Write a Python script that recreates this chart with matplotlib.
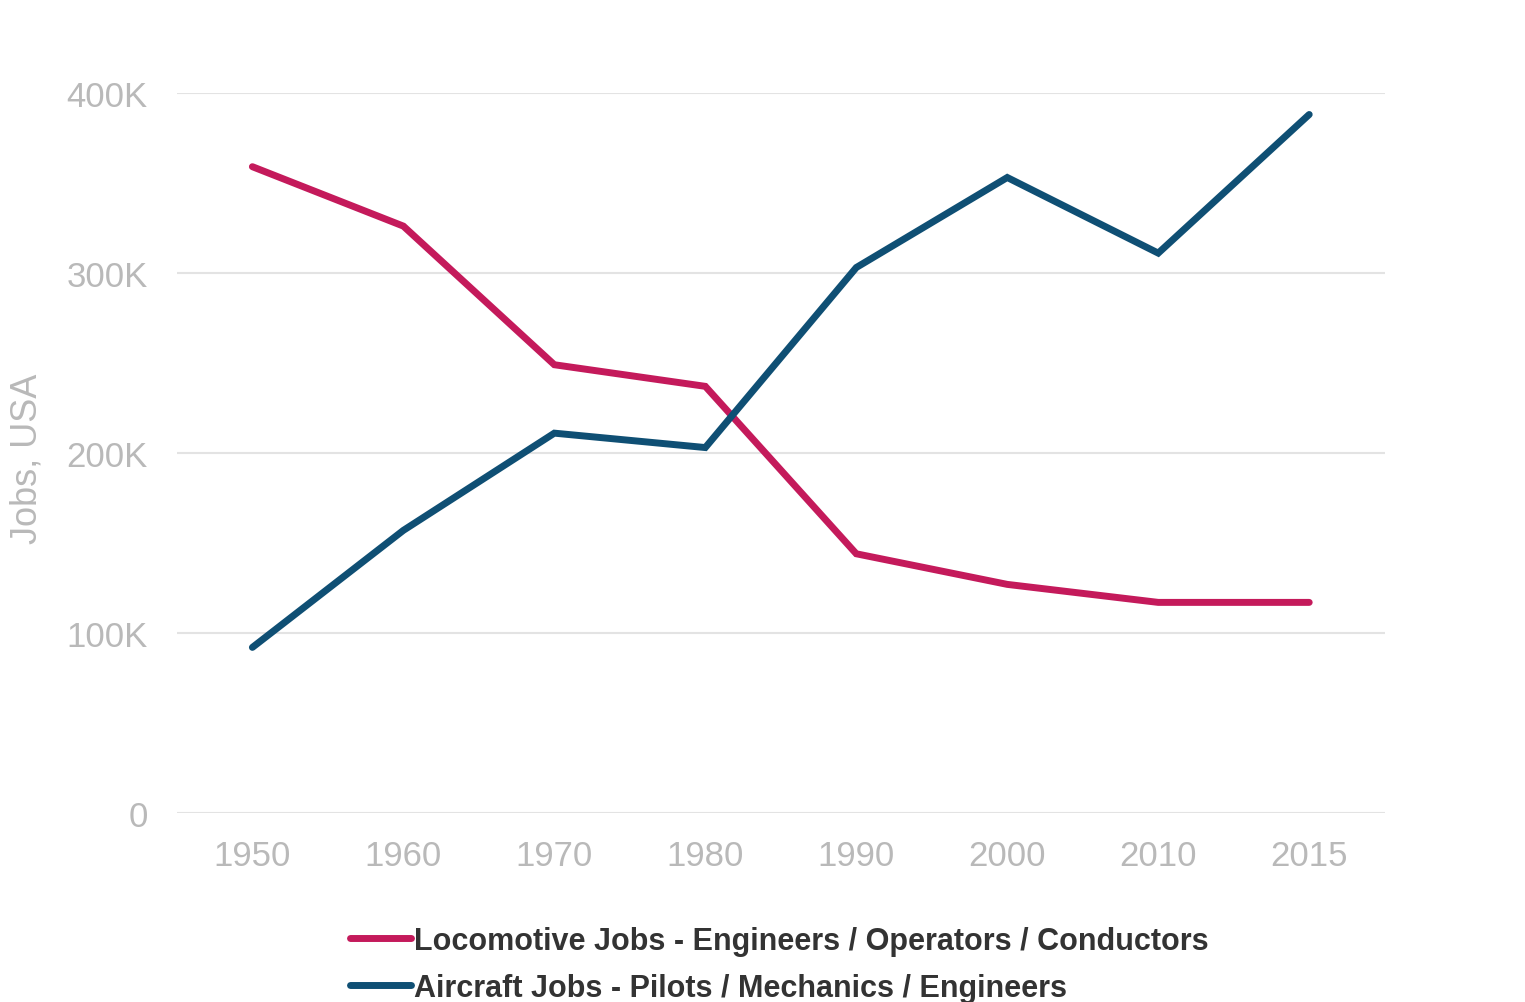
import matplotlib
matplotlib.use("Agg")
import matplotlib.pyplot as plt
from matplotlib import font_manager

years = ["1950", "1960", "1970", "1980", "1990", "2000", "2010", "2015"]
locomotive = [359, 326, 249, 237, 144, 127, 117, 117]   # thousands
aircraft = [92, 157, 211, 203, 303, 353, 311, 388]       # thousands
y_ticks = [0, 100, 200, 300, 400]
y_labels = ["0", "100K", "200K", "300K", "400K"]
series_names = ["Locomotive Jobs - Engineers / Operators / Conductors",
                "Aircraft Jobs - Pilots / Mechanics / Engineers"]

names = {f.name for f in font_manager.fontManager.ttflist}
narrow = "Liberation Sans Narrow" if "Liberation Sans Narrow" in names else "Liberation Sans"

RED = "#c41a5b"
BLUE = "#0f4f74"
GRAY = "#b9b9b9"

fig = plt.figure(figsize=(15.25, 10.03), dpi=100)
ax = fig.add_axes([0.116, 0.1884, 0.792, 0.718])

x = list(range(len(years)))
l1, = ax.plot(x, locomotive, color=RED, lw=5, solid_capstyle="round", solid_joinstyle="miter")
l2, = ax.plot(x, aircraft, color=BLUE, lw=5, solid_capstyle="round", solid_joinstyle="miter")

ax.set_xlim(-0.5, 7.5)
ax.set_ylim(0, 400)
ax.set_xticks(x)
ax.set_xticklabels(years, fontsize=25, color=GRAY, family="Liberation Sans")
ax.set_yticks(y_ticks)
ax.set_yticklabels(y_labels, fontsize=25, color=GRAY, family="Liberation Sans")
ax.tick_params(axis="x", length=0, pad=19)
ax.tick_params(axis="y", length=0, pad=21)
ax.grid(axis="y", color="#e3e3e3", lw=1.5)
ax.set_axisbelow(True)
for s in ax.spines.values():
    s.set_visible(False)

fig.text(0.018, 0.543, "Jobs, USA", rotation=90, fontsize=26, color=GRAY,
         family="Liberation Sans", ha="center", va="center")

leg = fig.legend([l1, l2], series_names, loc="upper left",
                 bbox_to_anchor=(0.2295, 0.076), frameon=False,
                 handlelength=2.0, handletextpad=0.1, labelspacing=0.55,
                 borderaxespad=0, borderpad=0,
                 prop={"family": narrow, "weight": "bold", "size": 22})
for t in leg.get_texts():
    t.set_color("#333333")

fig.savefig("out.png", dpi=100, facecolor="white")
